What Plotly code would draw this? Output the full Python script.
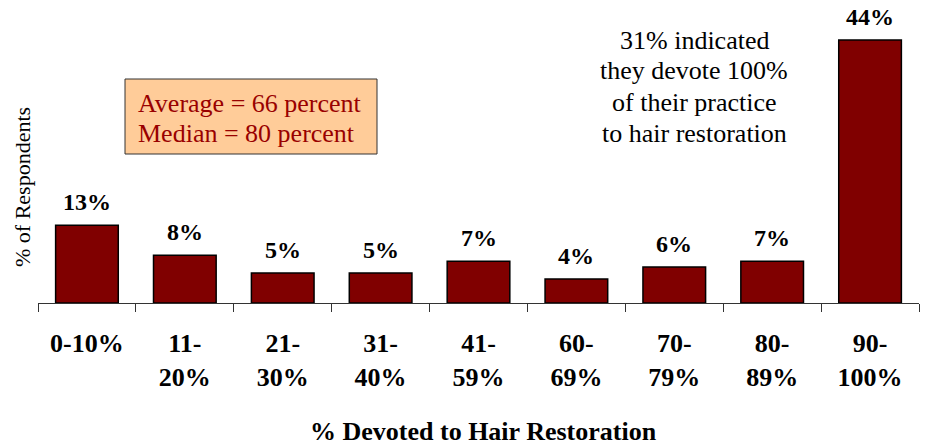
import plotly.graph_objects as go

categories = ["0-10%", "11-<br>20%", "21-<br>30%", "31-<br>40%", "41-<br>59%",
              "60-<br>69%", "70-<br>79%", "80-<br>89%", "90-<br>100%"]
values = [13, 8, 5, 5, 7, 4, 6, 7, 44]
value_labels = ["13%", "8%", "5%", "5%", "7%", "4%", "6%", "7%", "44%"]
box_lines = ["Average = 66 percent", "Median = 80 percent"]
note_lines = ["31% indicated", "they devote 100%", "of their practice", "to hair restoration"]

SERIF = "Liberation Serif"
W, H = 928, 448
L, R, T, B = 38, 9, 4, 145
PW, PH = W - L - R, H - T - B


def px(x):
    return (x - L) / PW


def py(y):
    return (H - B - y) / PH


fig = go.Figure()
fig.add_trace(go.Bar(
    x=categories, y=values,
    marker=dict(color="#800000", line=dict(color="#000000", width=1.5)),
    width=0.64,
    cliponaxis=False,
    hoverinfo="skip",
))

annotations = []
for c, v, t in zip(categories, values, value_labels):
    annotations.append(dict(text=t, x=c, y=v, xref="x", yref="y", yanchor="bottom",
                            yshift=8, showarrow=False,
                            font=dict(family=SERIF, size=24, color="#000000", weight="bold")))

annotations.append(dict(text="% Devoted to Hair Restoration", xref="paper", yref="paper",
                        x=px(483), y=py(431), xanchor="center", yanchor="middle", showarrow=False,
                        font=dict(family=SERIF, size=26, color="#000000", weight="bold")))
annotations.append(dict(text="% of Respondents", xref="paper", yref="paper",
                        x=px(22), y=py(187), textangle=-90, xanchor="center", yanchor="middle",
                        showarrow=False, font=dict(family=SERIF, size=22, color="#000000")))
for i, line in enumerate(box_lines):
    annotations.append(dict(text=line, xref="paper", yref="paper",
                            x=px(136), y=py(103 + 30 * i), xanchor="left", yanchor="middle",
                            showarrow=False, font=dict(family=SERIF, size=26, color="#990000")))
for i, line in enumerate(note_lines):
    annotations.append(dict(text=line, xref="paper", yref="paper",
                            x=px(694), y=py(40 + 31 * i), xanchor="center", yanchor="middle",
                            showarrow=False, font=dict(family=SERIF, size=26, color="#000000")))

fig.update_layout(
    width=W, height=H,
    margin=dict(l=L, r=R, t=T, b=B, autoexpand=False),
    paper_bgcolor="white", plot_bgcolor="white",
    showlegend=False,
    hovermode=False,
    xaxis=dict(
        type="category",
        showline=True, linecolor="#333333", linewidth=1,
        ticks="outside", tickson="boundaries", ticklen=8, tickcolor="#333333",
        tickfont=dict(family=SERIF, size=26, color="#000000", weight="bold"),
        ticklabelstandoff=17,
        showgrid=False, zeroline=False, automargin=False,
    ),
    yaxis=dict(range=[0, 50], visible=False, showgrid=False, zeroline=False, automargin=False),
    shapes=[dict(type="rect", xref="paper", yref="paper",
                 x0=px(125), x1=px(377), y0=py(154), y1=py(79),
                 fillcolor="#FFCC99", line=dict(color="#333333", width=1), layer="below")],
    annotations=annotations,
)

fig.write_html("out.html", config={"displayModeBar": False},
               post_script="document.body.style.margin='0';")
